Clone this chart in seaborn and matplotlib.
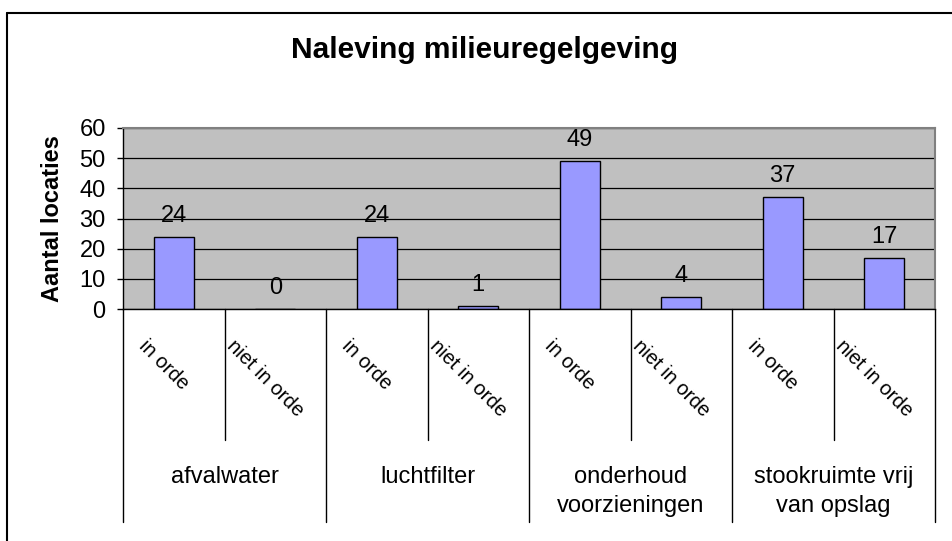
"""
Bar chart: compliance with environmental regulations per location type
"""

import pandas as pd
import numpy as np
import matplotlib.pyplot as plt
import seaborn as sns
from matplotlib.lines import Line2D
import matplotlib.transforms as mtransforms

# Data
groups = ['afvalwater', 'luchtfilter', 'onderhoud\nvoorzieningen', 'stookruimte vrij\nvan opslag']
statuses = ['in orde', 'niet in orde']
in_orde = [24, 24, 49, 37]
niet_in_orde = [0, 1, 4, 17]

TITLE = 'Naleving milieuregelgeving'
Y_LABEL = 'Aantal locaties'
y_ticks = [0, 10, 20, 30, 40, 50, 60]

BAR_COLOR = '#9999FF'
PLOT_BG = '#C0C0C0'
FONT = 'Liberation Sans'


def build_frame() -> pd.DataFrame:
    """Long format frame, one row per bar, in drawing order."""
    rows = []
    for g, a, b in zip(groups, in_orde, niet_in_orde):
        rows.append({'group': g, 'status': statuses[0], 'value': a})
        rows.append({'group': g, 'status': statuses[1], 'value': b})
    df = pd.DataFrame(rows)
    df['key'] = df['group'] + '|' + df['status']
    return df


sns.set_theme(style='white')
plt.rcParams['font.family'] = [FONT, 'DejaVu Sans']
plt.rcParams.update({
    'text.color': 'black',
    'axes.labelcolor': 'black',
    'xtick.color': 'black',
    'ytick.color': 'black',
})

df = build_frame()
n = len(df)

fig = plt.figure(figsize=(9.52, 5.41), dpi=100)
# axes placed in pixel terms of the 952x541 reference
left, right, top, bottom = 123, 935, 128, 309
ax = fig.add_axes([left / 952, 1 - bottom / 541, (right - left) / 952, (bottom - top) / 541])
ax.set_facecolor(PLOT_BG)

sns.barplot(data=df, x='key', y='value', order=list(df['key']), color=BAR_COLOR,
            saturation=1, edgecolor='black', linewidth=1.0, width=0.39, ax=ax)

# value labels above the bars
for i, v in enumerate(df['value']):
    ax.annotate(str(v), (i, v), xytext=(0, 21), textcoords='offset pixels',
                ha='center', va='center', fontsize=17, color='black')

ax.set_xlim(-0.5, n - 0.5)
ax.set_ylim(0, 60)
ax.set_yticks(y_ticks)
ax.yaxis.grid(True, color='black', linewidth=0.9)
ax.set_axisbelow(True)
ax.tick_params(axis='y', direction='out', length=4.5, width=1, color='black',
               labelsize=17, labelcolor='black', pad=8, left=True)
ax.tick_params(axis='x', bottom=False, labelbottom=False)
ax.set_xlabel('')
ax.set_ylabel(Y_LABEL, fontsize=17, fontweight='bold', color='black')
ax.yaxis.set_label_coords(-0.073, 0.5)

for side in ['left', 'bottom']:
    ax.spines[side].set_color('black')
    ax.spines[side].set_linewidth(1.0)
for side in ['top', 'right']:
    ax.spines[side].set_color('#808080')
    ax.spines[side].set_linewidth(1.5)

# multi-level category axis
trans = mtransforms.blended_transform_factory(ax.transData, ax.transAxes)
h = bottom - top
sub_depth = -(440 - bottom) / h
grp_depth = -(522 - bottom) / h
for i in range(len(groups)):
    x_mid = 2 * i + 0.5
    ax.add_line(Line2D([x_mid, x_mid], [0, sub_depth], transform=trans,
                       color='black', linewidth=1.0, clip_on=False))
for i in range(len(groups) + 1):
    x_sep = 2 * i - 0.5
    ax.add_line(Line2D([x_sep, x_sep], [0, grp_depth], transform=trans,
                       color='black', linewidth=1.0, clip_on=False))

for i, (g, s) in enumerate(zip(df['group'], df['status'])):
    ax.text(i - 0.1, -(336 - bottom) / h, s, transform=trans, rotation=-45,
            ha='center', va='top', fontsize=14.5, color='black')

for i, g in enumerate(groups):
    ax.text(2 * i + 0.5, -(466 - bottom) / h, g, transform=trans,
            ha='center', va='top', fontsize=17, linespacing=1.4, color='black')

# chart title
fig.text(485 / 952, 1 - 50 / 541, TITLE, ha='center', va='center',
         fontsize=21.5, fontweight='bold', color='black')

# chart area border (top and left edges visible)
fig.add_artist(Line2D([6.5 / 952, 6.5 / 952], [0, 1 - 12.5 / 541],
                      transform=fig.transFigure, color='black', linewidth=1.5))
fig.add_artist(Line2D([6.5 / 952, 1], [1 - 12.5 / 541, 1 - 12.5 / 541],
                      transform=fig.transFigure, color='black', linewidth=1.5))

fig.savefig('out.png', dpi=100)
